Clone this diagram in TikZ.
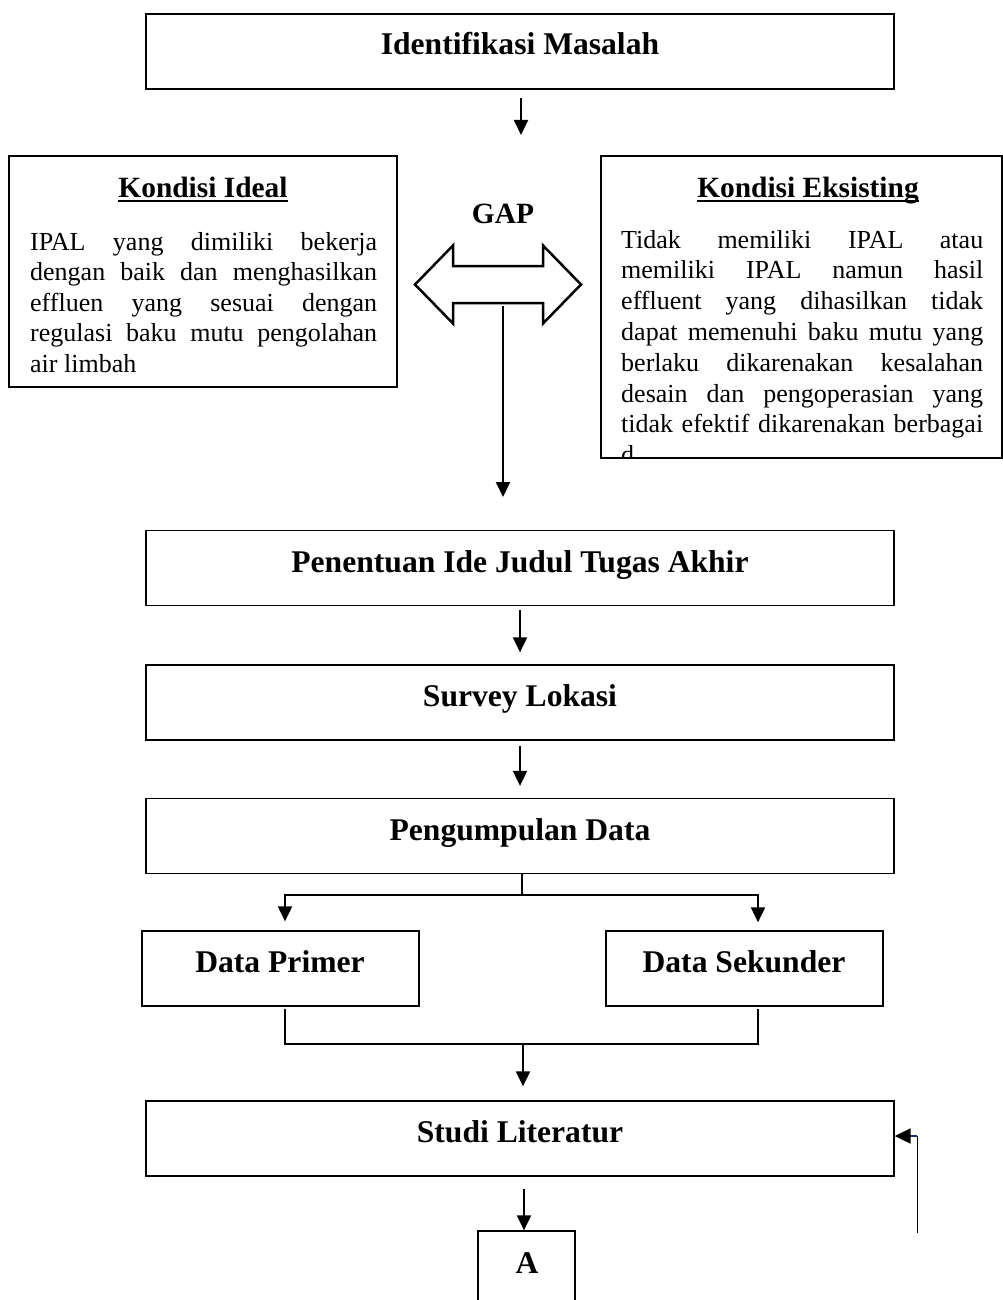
\documentclass[tikz,border=0pt]{standalone}
\usepackage{fontspec}
\setmainfont{Liberation Serif}[Ligatures=NoCommon]
\usetikzlibrary{arrows.meta,calc}

% one justified line: interword spaces stretch equally to fill the width
\newcommand\jl[1]{\hbox to \hsize{\spaceskip=\fontdimen2\font plus 1fil minus \fontdimen4\font\relax #1}}
% last (ragged) line of a paragraph
\newcommand\lastl[1]{\hbox{#1}}
% a stack of set lines, with its baseline on the first line
\newcommand\linestack[2]{\vtop{\hsize=#1\relax #2}}
% heading with a word-processor style underline
\newcommand\hdul[1]{\setbox0\hbox{#1}\rlap{\rule[-4.5pt]{\wd0}{1.8pt}}\box0}
% settings for the body text
\newcommand\bodyset{\fontsize{26pt}{30.6pt}\selectfont}
\newcommand\bodysetb{\fontsize{26pt}{30.8pt}\selectfont}

\definecolor{fbnavy}{RGB}{30,45,110}

\tikzset{
  stepbox/.style={draw, line width=1.3pt, minimum width=#1, minimum height=75pt, inner sep=0pt},
  title/.style={font=\bfseries\fontsize{31.6pt}{36pt}\selectfont, anchor=base, inner sep=0pt},
  subhead/.style={font=\bfseries\fontsize{29.4pt}{34pt}\selectfont, anchor=base, inner sep=0pt},
  body/.style={font=\bodyset, anchor=base west, inner sep=0pt},
  arr/.style={line width=2pt, -{Triangle[length=15pt,width=14pt]}},
  thinline/.style={line width=1.2pt}
}

\begin{document}
\begin{tikzpicture}[x=1pt,y=-1pt]
\useasboundingbox (0,0) rectangle (1003,1300);

% ---- problem identification ----
\node[stepbox=748pt] (b1) at (520,51.5) {};
\node[title] (t1) at (520,55) {Identifikasi Masalah};
\coordinate (a1) at (521,135);
\draw[arr] ([xshift=1pt,yshift=-8pt]b1.south) -- (a1);

% ---- ideal condition ----
\node[draw, line width=1.3pt, minimum width=388pt, minimum height=231pt, inner sep=0pt] (ideal) at (203,271.5) {};
\node[subhead] (idealh) at (203,197) {\hdul{Kondisi Ideal}};
\node[body] (idealt) at (30,250) {\linestack{347pt}{%
\jl{IPAL yang dimiliki bekerja}%
\jl{dengan baik dan menghasilkan}%
\jl{effluen yang sesuai dengan}%
\jl{regulasi baku mutu pengolahan}%
\lastl{air limbah}}};

% ---- existing condition ----
\node[draw, line width=1.3pt, minimum width=401pt, minimum height=302pt, inner sep=0pt] (eks) at (801.5,307) {};
\node[subhead] (eksh) at (808,197) {\hdul{Kondisi Eksisting}};
\begin{scope}
\clip ([yshift=0.65pt]eks.south west) rectangle (eks.north east);
\node[body, font=\bodysetb] (ekst) at (621,248) {\linestack{362pt}{%
\jl{Tidak memiliki IPAL atau}%
\jl{memiliki IPAL namun hasil}%
\jl{effluent yang dihasilkan tidak}%
\jl{dapat memenuhi baku mutu yang}%
\jl{berlaku dikarenakan kesalahan}%
\jl{desain dan pengoperasian yang}%
\jl{tidak efektif dikarenakan berbagai}%
\lastl{d}}};
\end{scope}

% ---- gap ----
\node[subhead] (gap) at (503,223) {GAP};
\draw[line width=2.5pt, line join=miter]
  (415,284.5) -- (453,245.5) -- (453,266) -- (543,266) -- (543,245.5) -- (581,284.5)
  -- (543,323.5) -- (543,303) -- (453,303) -- (453,323.5) -- cycle;
\coordinate (gapb) at (503,306);
\coordinate (gape) at (503,497);
\draw[arr] (gapb) -- (gape);

% ---- main steps ----
\node[stepbox=748pt] (b2) at (520,568) {};
\node[title] (t2) at (520,572) {Penentuan Ide Judul Tugas Akhir};
\node[stepbox=748pt] (b3) at (520,702.5) {};
\node[title] (t3) at (520,706) {Survey Lokasi};
\node[stepbox=748pt] (b4) at (520,836) {};
\node[title] (t4) at (520,840) {Pengumpulan Data};

\draw[arr] ([yshift=-4pt]b2.south) -- ([yshift=12pt]b3.north);
\draw[arr] ([yshift=-5pt]b3.south) -- ([yshift=12pt]b4.north);

% ---- data ----
\node[stepbox=277pt] (prim) at (280.5,968.5) {};
\node[title] (tp) at (280,972) {Data Primer};
\node[stepbox=277pt] (sek) at (744.5,968.5) {};
\node[title] (ts) at (744,972) {Data Sekunder};

\coordinate (j1) at (522,895);
\draw[thinline] (b4.south -| j1) -- (j1);
\draw[arr] (j1) -| ([xshift=4.5pt,yshift=9pt]prim.north);
\draw[arr] (j1) -| ([xshift=13.5pt,yshift=8pt]sek.north);

\node[stepbox=748pt] (studi) at (520,1138.5) {};
\node[title] (tl) at (520,1142) {Studi Literatur};

\coordinate (j2) at (523,1044);
\draw[thinline] ([xshift=4.5pt,yshift=-2pt]prim.south) |- (j2) -| ([xshift=13.5pt,yshift=-2pt]sek.south);
\draw[arr] (j2) -- ($(j2 |- studi.north)+(0,-14)$);

% ---- connector A ----
\node[draw, line width=1.3pt, minimum width=97pt, minimum height=79pt, inner sep=0pt] (A) at (526.5,1270.5) {};
\node[title] (tA) at (527,1273) {A};
\draw[arr] ($(A.north |- studi.south)+(-2.5,12)$) -- ($(A.north)+(-2.5,0)$);

% ---- feedback into literature study ----
\coordinate (fb0) at (917,1233);
\coordinate (fb1) at (917,1136);
\draw[line width=1pt] (fb0) -- (fb1);
\draw[line width=2pt, fbnavy, -{Triangle[length=16pt,width=15pt,color=black]}] (fb1) -- (fb1 -| studi.east);
\end{tikzpicture}
\end{document}
